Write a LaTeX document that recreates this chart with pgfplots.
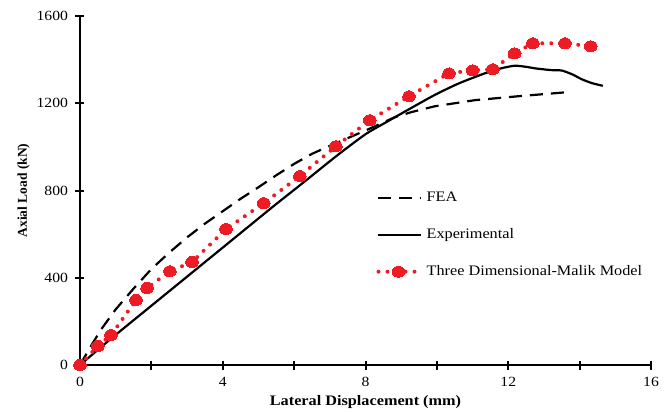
\documentclass[border=0pt]{standalone}
\usepackage{pgfplots}
\pgfplotsset{compat=1.18}
\usepackage{fontspec}
\setmainfont{Liberation Serif}[FakeStretch=1.12]
\newfontfamily\ylabfont{Liberation Serif}
\definecolor{myred}{RGB}{237,28,36}
\pgfplotsset{
 lineleg/.style={legend image code/.code={\draw[##1] (0bp,0bp) -- (43bp,0bp);}},
 redleg/.style={legend image code/.code={\draw[##1, mark repeat=2, mark phase=2] plot coordinates {(1bp,0bp) (21bp,0bp) (41bp,0bp)};}},
}
\begin{document}
\begin{tikzpicture}
\path (-80bp,-42bp) rectangle (590bp,365bp);
\begin{axis}[
 at={(0,0)}, anchor=south west,
 scale only axis, width=571bp, height=349bp,
 xmin=0, xmax=16, ymin=0, ymax=1600,
 axis lines*=left,
 axis line style={line width=2.4bp},
 xtick={0,4,8,12,16}, minor xtick={2,6,10,14},
 ytick={0,400,800,1200,1600},
 tick align=center, major tick length=9bp, minor tick length=9bp,
 tick style={line width=2bp, black},
 tick label style={font=\fontsize{14bp}{17bp}\selectfont},
 xticklabel style={yshift=-4bp},
 yticklabel style={xshift=-4bp},
 /pgf/number format/assume math mode=true,
 /pgf/number format/set thousands separator={},
 xlabel={\textbf{Lateral Displacement (mm)}},
 ylabel={\ylabfont\bfseries Axial Load (kN)},
 xlabel style={font=\fontsize{14.5bp}{17bp}\selectfont, yshift=-2bp},
 ylabel style={font=\fontsize{13.5bp}{16bp}\selectfont},
 clip=false,
 legend cell align=left,
 legend style={draw=none, fill=none, at={(axis cs:8.30,800)}, anchor=north west,
   inner sep=0pt, row sep=23bp, column sep=5bp,
   nodes={inner sep=0pt, text height=11bp, text depth=3bp},
   font=\fontsize{14.5bp}{17bp}\selectfont},
]
\addplot[black, line width=2.2bp, dash pattern=on 13bp off 8bp, lineleg]
 coordinates {(0,0)(0.3,85)(0.6,165)(1.0,255)(1.5,350)(2.0,440)(2.5,515)(3,585)(3.5,648)(4,705)(4.5,762)(5,815)(5.5,870)(6,922)(6.5,968)(7,1005)(7.5,1040)(8,1075)(8.82,1136)(9.3,1160)(9.94,1186)(11.06,1214)(12.27,1232)(13.6,1250)};
\addlegendentry{FEA}
\addplot[black, line width=2.2bp, smooth, tension=0.4, lineleg]
 coordinates {(0,0)(0.9,125)(1.8,245)(2.7,365)(3.6,485)(4.5,605)(5.4,725)(6.3,842)(7.2,960)(8.0,1058)(8.6,1115)(9.3,1180)(9.94,1238)(10.6,1290)(11.34,1337)(11.8,1360)(12.18,1372)(12.5,1367)(12.75,1360)(13.2,1352)(13.5,1350)(13.8,1332)(14.06,1310)(14.35,1292)(14.65,1280)};
\addlegendentry{Experimental}
\addplot[myred, line width=4bp, line cap=round, dash pattern=on 0bp off 9bp,
  mark=*, mark size=5.5bp, mark options={solid, xscale=1.15, fill=myred, draw=myred, line width=0pt}, redleg]
 coordinates {(0,0)(0.50,87)(0.87,137)(1.57,298)(1.88,353)(2.52,430)(3.14,472)(4.09,623)(5.15,742)(6.16,866)(7.17,1003)(8.12,1122)(9.22,1232)(10.34,1337)(11.0,1351)(11.57,1356)(12.18,1429)(12.69,1475)(13.59,1475)(14.31,1461)};
\addlegendentry{Three Dimensional-Malik Model}
\end{axis}
\end{tikzpicture}
\end{document}
